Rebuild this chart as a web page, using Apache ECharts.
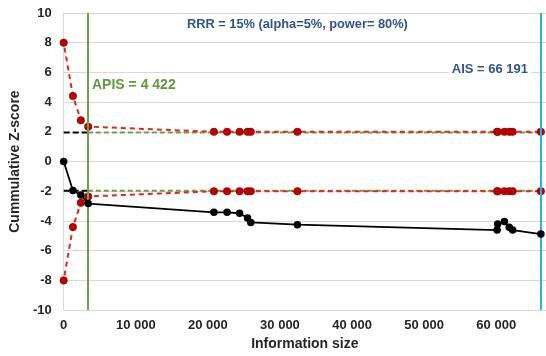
<!DOCTYPE html>
<html>
<head>
<meta charset="utf-8">
<script src="https://cdn.jsdelivr.net/npm/echarts@6/dist/echarts.min.js"></script>
<style>
html,body{margin:0;padding:0;background:#fff;}
#chart{width:546px;height:356px;}
</style>
</head>
<body>
<div id="chart"></div>
<script>
// ---- data ----
const infoSize = [0, 1280, 2380, 3400, 20840, 22660, 24400, 25500, 25950, 32420, 60120, 60200, 61130, 61800, 62270, 66191];
const zScore   = [0, -1.95, -2.25, -2.83, -3.42, -3.42, -3.48, -3.80, -4.10, -4.25, -4.61, -4.21, -4.03, -4.43, -4.61, -4.88];
const upperBoundary = [8, 4.41, 2.78, 2.35, 2, 2, 2, 2, 2, 2, 2, 2, 2, 2, 2, 2];
const lowerBoundary = [-8, -4.41, -2.78, -2.35, -2, -2, -2, -2, -2, -2, -2, -2, -2, -2, -2, -2];
const conventionalZ = 1.96;
const apisPos = 3350;      // where the APIS line is drawn
const aisPos = 66191;
const yTicks = [-10, -8, -6, -4, -2, 0, 2, 4, 6, 8, 10];
const xTicks = [0, 10000, 20000, 30000, 40000, 50000, 60000];
const titleText = 'RRR = 15% (alpha=5%, power= 80%)';
const apisText = 'APIS = 4 422';
const aisText = 'AIS = 66 191';

const pair = (xs, ys) => xs.map((x, i) => [x, ys[i]]);
const fmt = v => String(v).replace(/\B(?=(\d{3})+(?!\d))/g, ' ');

const chart = echarts.init(document.getElementById('chart'));
const font = 'Liberation Sans, Arial, sans-serif';
chart.setOption({
  animation: false,
  grid: {left: 60, right: 0, top: 13, bottom: 42.5},
  xAxis: {
    type: 'value', min: 0, max: 66900, interval: 10000,
    name: 'Information size', nameLocation: 'middle', nameGap: 25,
    nameTextStyle: {fontFamily: font, fontWeight: 'bold', fontSize: 14, color: '#262626', verticalAlign: 'top'},
    axisLine: {show: false},
    axisTick: {show: false},
    splitLine: {show: false},
    axisLabel: {
      fontFamily: font, fontWeight: 'bold', fontSize: 13, color: '#262626', margin: 9,
      showMaxLabel: false,
      formatter: v => xTicks.includes(v) ? fmt(v) : ''
    }
  },
  yAxis: {
    type: 'value', min: yTicks[0], max: yTicks[yTicks.length - 1], interval: 2,
    name: 'Cummulative Z-score', nameLocation: 'middle', nameGap: 36,
    nameTextStyle: {fontFamily: font, fontWeight: 'bold', fontSize: 14, color: '#262626'},
    axisLine: {show: true, lineStyle: {color: '#d9d9d9', width: 1}},
    axisTick: {show: false},
    splitLine: {show: true, lineStyle: {color: '#d9d9d9', width: 1}},
    axisLabel: {fontFamily: font, fontWeight: 'bold', fontSize: 13, color: '#262626', margin: 12}
  },
  series: [
    // conventional boundaries: black dashed before APIS, green dashed after
    {type: 'line', data: [[0, conventionalZ], [apisPos, conventionalZ]], symbol: 'none',
     lineStyle: {color: '#000', width: 2, type: [6, 3]}, z: 2},
    {type: 'line', data: [[0, -conventionalZ], [apisPos, -conventionalZ]], symbol: 'none',
     lineStyle: {color: '#000', width: 2, type: [6, 3]}, z: 2},
    {type: 'line', data: [[apisPos, conventionalZ], [aisPos, conventionalZ]], symbol: 'none',
     lineStyle: {color: '#70a048', width: 2, type: [5, 3]}, z: 2},
    {type: 'line', data: [[apisPos, -conventionalZ], [aisPos, -conventionalZ]], symbol: 'none',
     lineStyle: {color: '#70a048', width: 2, type: [5, 3]}, z: 2},
    // monitoring boundaries
    {type: 'line', data: pair(infoSize, upperBoundary), symbol: 'circle', symbolSize: 7.5,
     itemStyle: {color: '#c00000', borderColor: '#6a0000', borderWidth: 0.5},
     lineStyle: {color: '#e0281e', width: 2, type: [5, 4], dashOffset: 4}, z: 3},
    {type: 'line', data: pair(infoSize, lowerBoundary), symbol: 'circle', symbolSize: 7.5,
     itemStyle: {color: '#c00000', borderColor: '#6a0000', borderWidth: 0.5},
     lineStyle: {color: '#e0281e', width: 2, type: [5, 4], dashOffset: 4}, z: 3},
    // cumulative Z curve
    {type: 'line', data: pair(infoSize, zScore), symbol: 'circle', symbolSize: 7.5,
     itemStyle: {color: '#000'}, lineStyle: {color: '#000', width: 1.8}, z: 5},
    // APIS and AIS vertical lines
    {type: 'line', data: [], z: 4,
     markLine: {silent: true, symbol: 'none', label: {show: false},
       data: [
         {xAxis: apisPos, lineStyle: {color: '#70a048', width: 2, type: 'solid'}},
         {xAxis: aisPos, lineStyle: {color: '#1fb4ef', width: 2, type: 'solid'}}
       ]}}
  ],
  graphic: [
    {type: 'text', left: 187, top: 18, z: 10, style: {text: titleText, fontFamily: font, fontWeight: 'bold', fontSize: 12.8, fill: '#2f5597'}},
    {type: 'text', right: 15, top: 62, z: 10, style: {text: aisText, fontFamily: font, fontWeight: 'bold', fontSize: 13, fill: '#2f5597', backgroundColor: '#fff', padding: [1, 3, 1, 3]}},
    {type: 'text', left: 92, top: 78, z: 10, style: {text: apisText, fontFamily: font, fontWeight: 'bold', fontSize: 14, fill: '#5f9a3c'}}
  ]
});
</script>
</body>
</html>
